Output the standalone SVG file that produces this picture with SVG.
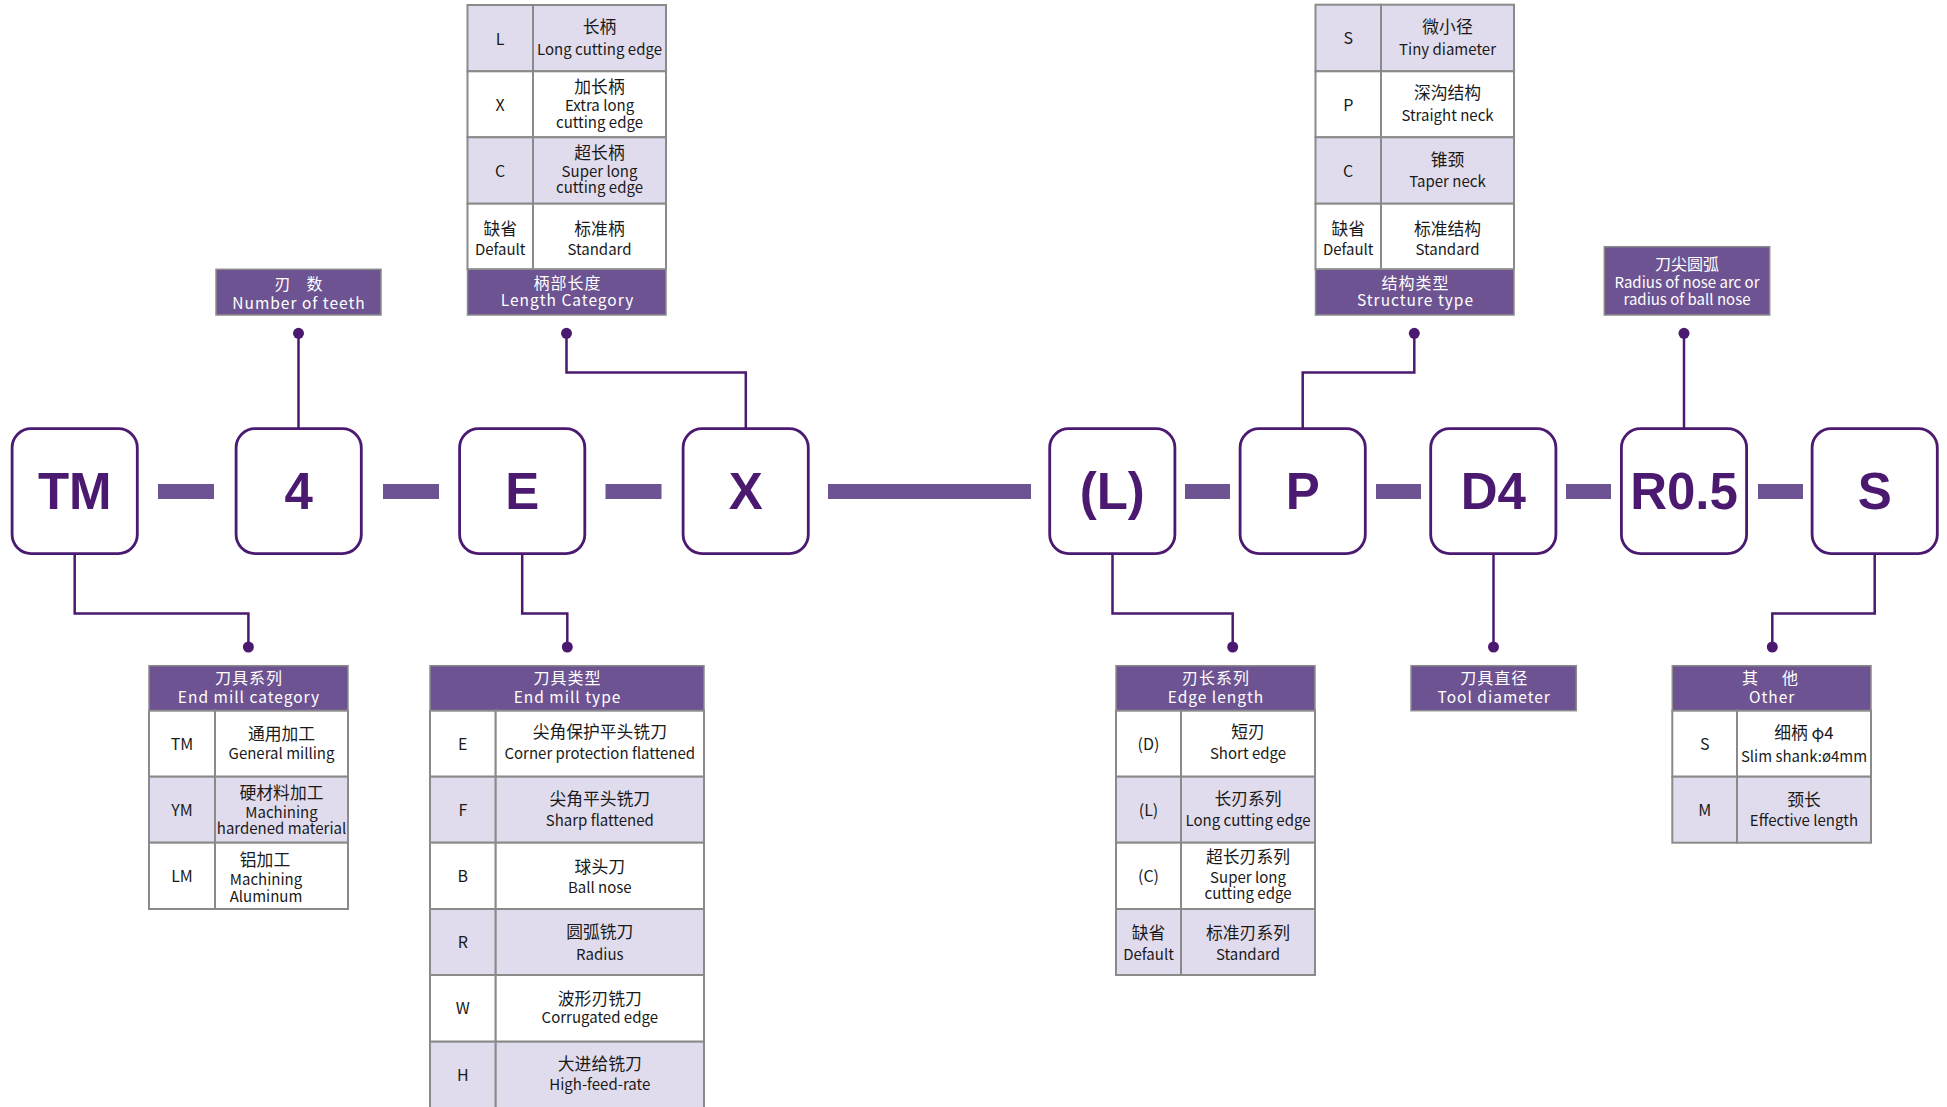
<svg xmlns="http://www.w3.org/2000/svg" width="1947" height="1107" viewBox="0 0 1947 1107">
<style>
.box{fill:#fff;stroke:#4b1a70;stroke-width:2.8}
.bt{font-family:"Liberation Sans",Arial,sans-serif;font-weight:bold;font-size:51px;fill:#4b1a70;text-anchor:middle}
.dash{fill:#6d5391}
.conn{fill:none;stroke:#4b1a70;stroke-width:2.5}
.dot{fill:#4b1a70}
.hd{fill:#6d5391;stroke:#8c8c8c;stroke-width:1.5}
.w{fill:#fff;stroke:#8a8a8a;stroke-width:2}
.l{fill:#e1dced;stroke:#8a8a8a;stroke-width:2}
.t{font-family:"Noto Sans CJK SC","Noto Sans",sans-serif;font-size:15px;fill:#1a1a1a;text-anchor:middle}
.c{font-family:"Noto Sans CJK SC","Noto Sans",sans-serif;font-size:16.8px;fill:#1a1a1a;text-anchor:middle}
.k{font-family:"Noto Sans CJK SC","Noto Sans",sans-serif;font-size:16px;fill:#1a1a1a;text-anchor:middle}
.ht{font-family:"Noto Sans CJK SC","Noto Sans",sans-serif;font-size:15.5px;fill:#fff;text-anchor:middle;letter-spacing:1px}
.hc{font-family:"Noto Sans CJK SC","Noto Sans",sans-serif;font-size:16px;fill:#fff;text-anchor:middle;letter-spacing:1px}
.hw{font-family:"Noto Sans CJK SC","Noto Sans",sans-serif;font-size:15px;fill:#fff;text-anchor:middle}
</style>
<rect width="1947" height="1107" fill="#fff"/>

<g id="connectors">
<rect class="dash" x="158" y="484" width="56" height="15"/>
<rect class="dash" x="383" y="484" width="56" height="15"/>
<rect class="dash" x="605.5" y="484" width="56" height="15"/>
<rect class="dash" x="828" y="484" width="203" height="15"/>
<rect class="dash" x="1185" y="484" width="45" height="15"/>
<rect class="dash" x="1376" y="484" width="45" height="15"/>
<rect class="dash" x="1566" y="484" width="45" height="15"/>
<rect class="dash" x="1758" y="484" width="45" height="15"/>
<path class="conn" d="M298.5,333.3V428"/>
<path class="conn" d="M566.5,333.3V372.5H745.8V428"/>
<path class="conn" d="M1414.3,333.3V372.5H1302.7V428"/>
<path class="conn" d="M1684,333.3V428"/>
<path class="conn" d="M74.7,554V613.4H248.4V647"/>
<path class="conn" d="M522.2,554V613.4H567.3V647"/>
<path class="conn" d="M1112.5,554V613.4H1232.7V647"/>
<path class="conn" d="M1493.5,554V647"/>
<path class="conn" d="M1874.7,554V613.4H1772.3V647"/>
<circle class="dot" cx="298.5" cy="333.3" r="5.5"/>
<circle class="dot" cx="566.5" cy="333.3" r="5.5"/>
<circle class="dot" cx="1414.3" cy="333.3" r="5.5"/>
<circle class="dot" cx="1684" cy="333.3" r="5.5"/>
<circle class="dot" cx="248.4" cy="647" r="5.5"/>
<circle class="dot" cx="567.3" cy="647" r="5.5"/>
<circle class="dot" cx="1232.7" cy="647" r="5.5"/>
<circle class="dot" cx="1493.5" cy="647" r="5.5"/>
<circle class="dot" cx="1772.3" cy="647" r="5.5"/>
</g>

<g id="node-TM"><rect class="box" x="12.1" y="428.7" width="125.2" height="124.9" rx="19"/><text class="bt" x="74.7" y="509">TM</text></g>
<g id="node-4"><rect class="box" x="236.1" y="428.7" width="125.2" height="124.9" rx="19"/><text class="bt" x="298.7" y="509">4</text></g>
<g id="node-E"><rect class="box" x="459.6" y="428.7" width="125.2" height="124.9" rx="19"/><text class="bt" x="522.2" y="509">E</text></g>
<g id="node-X"><rect class="box" x="683.1" y="428.7" width="125.2" height="124.9" rx="19"/><text class="bt" x="745.7" y="509">X</text></g>
<g id="node-L"><rect class="box" x="1049.7" y="428.7" width="125.2" height="124.9" rx="19"/><text class="bt" x="1112.3" y="509">(L)</text></g>
<g id="node-P"><rect class="box" x="1240.1" y="428.7" width="125.2" height="124.9" rx="19"/><text class="bt" x="1302.7" y="509">P</text></g>
<g id="node-D4"><rect class="box" x="1430.7" y="428.7" width="125.2" height="124.9" rx="19"/><text class="bt" x="1493.3" y="509">D4</text></g>
<g id="node-R05"><rect class="box" x="1621.4" y="428.7" width="125.2" height="124.9" rx="19"/><text class="bt" x="1684" y="509">R0.5</text></g>
<g id="node-S"><rect class="box" x="1812.1" y="428.7" width="125.2" height="124.9" rx="19"/><text class="bt" x="1874.7" y="509">S</text></g>

<g id="label-teeth">
<rect class="hd" x="216" y="269.3" width="165" height="45.7"/>
<text class="hc" x="298.5" y="290.3" style="letter-spacing:0">刃　数</text>
<text class="ht" x="299" y="309">Number of teeth</text>
</g>

<g id="table-length">
<rect class="l" x="467.5" y="5" width="65.5" height="66.3"/><rect class="l" x="533" y="5" width="133" height="66.3"/>
<rect class="w" x="467.5" y="71.3" width="65.5" height="66"/><rect class="w" x="533" y="71.3" width="133" height="66"/>
<rect class="l" x="467.5" y="137.3" width="65.5" height="66.4"/><rect class="l" x="533" y="137.3" width="133" height="66.4"/>
<rect class="w" x="467.5" y="203.7" width="65.5" height="65.6"/><rect class="w" x="533" y="203.7" width="133" height="65.6"/>
<rect class="hd" x="467.5" y="269.3" width="198.5" height="45.7"/>
<text class="k" x="500.2" y="44.5">L</text>
<text class="c" x="599.5" y="33.2">长柄</text><text class="t" x="599.5" y="55">Long cutting edge</text>
<text class="k" x="500.2" y="110.5">X</text>
<text class="c" x="599.5" y="93.2">加长柄</text><text class="t" x="599.5" y="111">Extra long</text><text class="t" x="599.5" y="127.5">cutting edge</text>
<text class="k" x="500.2" y="176.7">C</text>
<text class="c" x="599.5" y="159.2">超长柄</text><text class="t" x="599.5" y="176.7">Super long</text><text class="t" x="599.5" y="193.3">cutting edge</text>
<text class="c" x="500.2" y="234.8">缺省</text><text class="t" x="500.2" y="255">Default</text>
<text class="c" x="599.5" y="234.8">标准柄</text><text class="t" x="599.5" y="255">Standard</text>
<text class="hc" x="567.5" y="288.7">柄部长度</text>
<text class="ht" x="567.5" y="306">Length Category</text>
</g>

<g id="table-structure">
<rect class="l" x="1315.5" y="4.7" width="65.5" height="66.6"/><rect class="l" x="1381" y="4.7" width="133" height="66.6"/>
<rect class="w" x="1315.5" y="71.3" width="65.5" height="66"/><rect class="w" x="1381" y="71.3" width="133" height="66"/>
<rect class="l" x="1315.5" y="137.3" width="65.5" height="66.4"/><rect class="l" x="1381" y="137.3" width="133" height="66.4"/>
<rect class="w" x="1315.5" y="203.7" width="65.5" height="65.6"/><rect class="w" x="1381" y="203.7" width="133" height="65.6"/>
<rect class="hd" x="1315.5" y="269.3" width="198.5" height="45.7"/>
<text class="k" x="1348.2" y="44.2">S</text>
<text class="c" x="1447.5" y="32.5">微小径</text><text class="t" x="1447.5" y="55">Tiny diameter</text>
<text class="k" x="1348.2" y="110.5">P</text>
<text class="c" x="1447.5" y="99.2">深沟结构</text><text class="t" x="1447.5" y="120.7">Straight neck</text>
<text class="k" x="1348.2" y="176.7">C</text>
<text class="c" x="1447.5" y="165.8">锥颈</text><text class="t" x="1447.5" y="186.7">Taper neck</text>
<text class="c" x="1348.2" y="234.8">缺省</text><text class="t" x="1348.2" y="255">Default</text>
<text class="c" x="1447.5" y="234.8">标准结构</text><text class="t" x="1447.5" y="255">Standard</text>
<text class="hc" x="1415.5" y="288.7">结构类型</text>
<text class="ht" x="1415.5" y="306">Structure type</text>
</g>

<g id="label-nose">
<rect class="hd" x="1604.3" y="246.7" width="165.4" height="68.3"/>
<text class="hc" x="1687" y="269.6" style="letter-spacing:0">刀尖圆弧</text>
<text class="hw" x="1687" y="288.3">Radius of nose arc or</text>
<text class="hw" x="1687" y="305">radius of ball nose</text>
</g>

<g id="table-category">
<rect class="hd" x="149" y="665.7" width="199" height="45"/>
<text class="hc" x="249" y="684.3">刀具系列</text>
<text class="ht" x="249" y="702.7">End mill category</text>
<rect class="w" x="149" y="710.7" width="66" height="66"/><rect class="w" x="215" y="710.7" width="133" height="66"/>
<rect class="l" x="149" y="776.7" width="66" height="66"/><rect class="l" x="215" y="776.7" width="133" height="66"/>
<rect class="w" x="149" y="842.7" width="66" height="66.3"/><rect class="w" x="215" y="842.7" width="133" height="66.3"/>
<text class="k" x="182" y="750">TM</text>
<text class="c" x="281.5" y="739.8">通用加工</text><text class="t" x="281.5" y="759.3">General milling</text>
<text class="k" x="182" y="816">YM</text>
<text class="c" x="281.5" y="799.2">硬材料加工</text><text class="t" x="281.5" y="818.3">Machining</text><text class="t" x="281.5" y="834.3">hardened material</text>
<text class="k" x="182" y="882">LM</text>
<text class="c" x="265" y="865.8">铝加工</text><text class="t" x="266" y="885">Machining</text><text class="t" x="266" y="901.7">Aluminum</text>
</g>

<g id="table-type">
<rect class="hd" x="430" y="665.7" width="274" height="45"/>
<text class="hc" x="567.5" y="684.3">刀具类型</text>
<text class="ht" x="567.5" y="702.7">End mill type</text>
<rect class="w" x="430" y="710.7" width="65.7" height="66"/><rect class="w" x="495.7" y="710.7" width="208.3" height="66"/>
<rect class="l" x="430" y="776.7" width="65.7" height="66"/><rect class="l" x="495.7" y="776.7" width="208.3" height="66"/>
<rect class="w" x="430" y="842.7" width="65.7" height="66.3"/><rect class="w" x="495.7" y="842.7" width="208.3" height="66.3"/>
<rect class="l" x="430" y="909" width="65.7" height="66"/><rect class="l" x="495.7" y="909" width="208.3" height="66"/>
<rect class="w" x="430" y="975" width="65.7" height="66.7"/><rect class="w" x="495.7" y="975" width="208.3" height="66.7"/>
<rect class="l" x="430" y="1041.7" width="65.7" height="70"/><rect class="l" x="495.7" y="1041.7" width="208.3" height="70"/>
<text class="k" x="462.8" y="750">E</text>
<text class="c" x="599.8" y="738.2">尖角保护平头铣刀</text><text class="t" x="599.8" y="759.3">Corner protection flattened</text>
<text class="k" x="462.8" y="816">F</text>
<text class="c" x="599.8" y="804.8">尖角平头铣刀</text><text class="t" x="599.8" y="825.7">Sharp flattened</text>
<text class="k" x="462.8" y="882">B</text>
<text class="c" x="599.8" y="872.5">球头刀</text><text class="t" x="599.8" y="893.3">Ball nose</text>
<text class="k" x="462.8" y="948">R</text>
<text class="c" x="599.8" y="938.2">圆弧铣刀</text><text class="t" x="599.8" y="960">Radius</text>
<text class="k" x="462.8" y="1014">W</text>
<text class="c" x="599.8" y="1004.8">波形刃铣刀</text><text class="t" x="599.8" y="1022.7">Corrugated edge</text>
<text class="k" x="462.8" y="1080.5">H</text>
<text class="c" x="599.8" y="1069.8">大进给铣刀</text><text class="t" x="599.8" y="1090">High-feed-rate</text>
</g>

<g id="table-edge">
<rect class="hd" x="1116" y="665.7" width="199" height="45"/>
<text class="hc" x="1216" y="684.3">刃长系列</text>
<text class="ht" x="1216" y="702.7">Edge length</text>
<rect class="w" x="1116" y="710.7" width="65" height="66"/><rect class="w" x="1181" y="710.7" width="134" height="66"/>
<rect class="l" x="1116" y="776.7" width="65" height="66"/><rect class="l" x="1181" y="776.7" width="134" height="66"/>
<rect class="w" x="1116" y="842.7" width="65" height="66.3"/><rect class="w" x="1181" y="842.7" width="134" height="66.3"/>
<rect class="l" x="1116" y="909" width="65" height="66"/><rect class="l" x="1181" y="909" width="134" height="66"/>
<text class="k" x="1148.5" y="750">(D)</text>
<text class="c" x="1248" y="738.2">短刃</text><text class="t" x="1248" y="759.3">Short edge</text>
<text class="k" x="1148.5" y="816">(L)</text>
<text class="c" x="1248" y="804.8">长刃系列</text><text class="t" x="1248" y="825.7">Long cutting edge</text>
<text class="k" x="1148.5" y="882">(C)</text>
<text class="c" x="1248" y="863.2">超长刃系列</text><text class="t" x="1248" y="883.3">Super long</text><text class="t" x="1248" y="899.3">cutting edge</text>
<text class="c" x="1148.5" y="939.2">缺省</text><text class="t" x="1148.5" y="960">Default</text>
<text class="c" x="1248" y="939.2">标准刃系列</text><text class="t" x="1248" y="960">Standard</text>
</g>

<g id="label-diameter">
<rect class="hd" x="1411" y="665.7" width="165.3" height="45"/>
<text class="hc" x="1494.2" y="684.3">刀具直径</text>
<text class="ht" x="1494.2" y="702.7">Tool diameter</text>
</g>

<g id="table-other">
<rect class="hd" x="1672.3" y="665.7" width="198.7" height="45"/>
<text class="hc" x="1772" y="684.3" style="letter-spacing:4px">其　他</text>
<text class="ht" x="1772.2" y="702.7">Other</text>
<rect class="w" x="1672.3" y="710.7" width="64.7" height="66"/><rect class="w" x="1737" y="710.7" width="134" height="66"/>
<rect class="l" x="1672.3" y="776.7" width="64.7" height="66"/><rect class="l" x="1737" y="776.7" width="134" height="66"/>
<text class="k" x="1704.7" y="750">S</text>
<text class="c" x="1804" y="739.2">细柄 φ4</text><text class="t" x="1804" y="761.7">Slim shank:ø4mm</text>
<text class="k" x="1704.7" y="816">M</text>
<text class="c" x="1804" y="805.8">颈长</text><text class="t" x="1804" y="825.7">Effective length</text>
</g>
</svg>
